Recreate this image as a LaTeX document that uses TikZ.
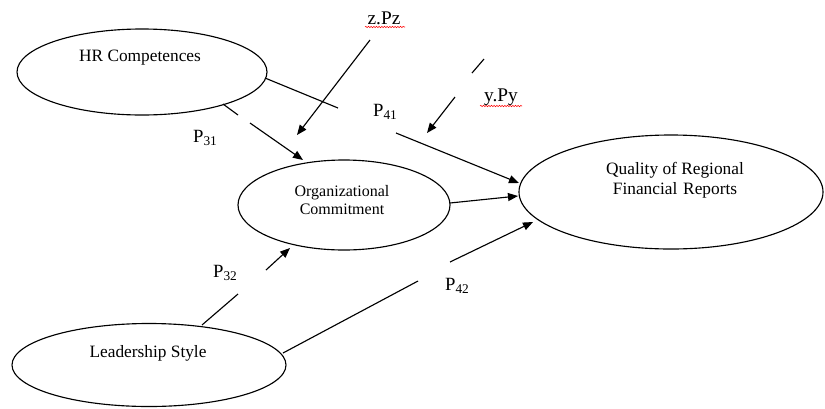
\documentclass[tikz,border=0pt]{standalone}
\usepackage{fontspec}
\setmainfont{Liberation Serif}
\usetikzlibrary{shapes.geometric,arrows.meta,decorations.pathmorphing}
\newcommand{\psub}[1]{\raisebox{-0.3ex}{\fontsize{10}{10}\selectfont #1}}
\begin{document}
\begin{tikzpicture}[x=0.75pt,y=-0.75pt,
  construct/.style={draw,ellipse,line width=0.85pt,inner sep=0pt},
  lbl/.style={inner sep=0pt,font=\fontsize{13}{15}\selectfont,align=center},
  plbl/.style={inner sep=0pt,font=\fontsize{14}{15}\selectfont},
  vlbl/.style={inner sep=0pt,font=\fontsize{14.5}{15}\selectfont},
  small/.style={inner sep=0pt,font=\fontsize{12}{13.5}\selectfont,align=center},
  link/.style={line width=0.85pt},
  arr/.style={line width=0.85pt,-{Triangle[length=7.5pt,width=6pt]}},
  spell/.style={red,line width=0.4pt,decorate,decoration={snake,amplitude=0.5pt,segment length=2pt}}]
\useasboundingbox (0,0) rectangle (825,408);
% ellipses
\node[construct,minimum width=187.5pt,minimum height=64.5pt] (hr) at (142,72) {};
\node[construct,minimum width=159pt,minimum height=67.5pt] (org) at (344,205) {};
\node[construct,minimum width=228pt,minimum height=85.5pt] (qual) at (671,192) {};
\node[construct,minimum width=205.5pt,minimum height=62.25pt] (lead) at (149,365) {};
% texts
\node[lbl] (hrt) at (140,58) {HR Competences};
\node[small] (orgt) at (342,200) {Organizational\\Commitment};
\node[lbl] (qualt) at (675,180) {Quality of Regional\\Financial\,\,Reports};
\node[lbl] (leadt) at (148,353) {Leadership Style};
% path labels
\node[plbl] (p31) at (205,138) {P\psub{31}};
\node[plbl] (p41) at (385,112) {P\psub{41}};
\node[plbl] (p32) at (225,273) {P\psub{32}};
\node[plbl] (p42) at (457,286) {P\psub{42}};
\node[vlbl] (zpz) at (384,18) {z.Pz};
\node[vlbl] (ypy) at (501,97) {y.Py};
\draw[spell] (365,27) -- (405,27);
\draw[spell] (480,106) -- (522,106);
% connector points
\coordinate (a1) at (223,104); \coordinate (a2) at (238,115);
\coordinate (a3) at (250,123); \coordinate (a4) at (303,160);
\coordinate (b1) at (265,78);  \coordinate (b2) at (338,108);
\coordinate (b3) at (396,133); \coordinate (b4) at (519,183);
\coordinate (c1) at (370,40);  \coordinate (c2) at (297,135);
\coordinate (d1) at (484,59);  \coordinate (d2) at (472,73);
\coordinate (d3) at (455,97);  \coordinate (d4) at (427,133);
\coordinate (e1) at (450,203); \coordinate (e2) at (518,196);
\coordinate (f1) at (202,325); \coordinate (f2) at (238,294);
\coordinate (f3) at (266,270); \coordinate (f4) at (290,248);
\coordinate (g1) at (283,353); \coordinate (g2) at (418,281);
\coordinate (g3) at (450,262); \coordinate (g4) at (533,222);
% connectors
\draw[link] (a1) -- (a2); \draw[arr] (a3) -- (a4);
\draw[link] (b1) -- (b2); \draw[arr] (b3) -- (b4);
\draw[arr] (c1) -- (c2);
\draw[link] (d1) -- (d2); \draw[arr] (d3) -- (d4);
\draw[arr] (e1) -- (e2);
\draw[link] (f1) -- (f2); \draw[arr] (f3) -- (f4);
\draw[link] (g1) -- (g2); \draw[arr] (g3) -- (g4);
\end{tikzpicture}
\end{document}
